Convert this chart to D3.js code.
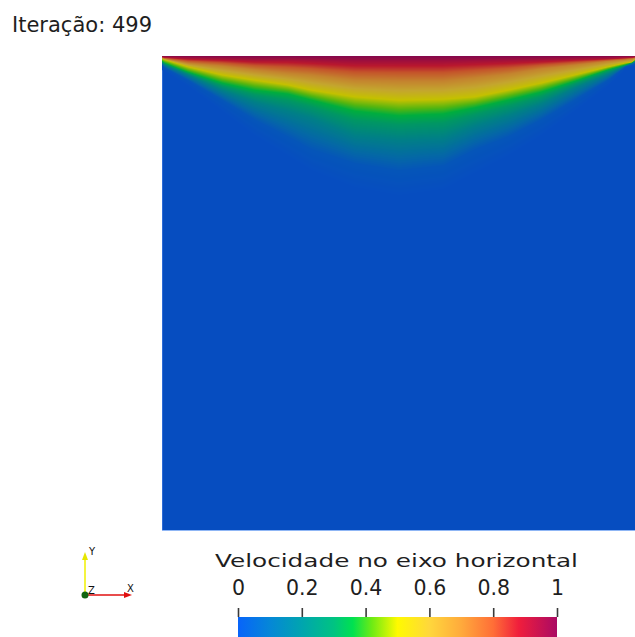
<!DOCTYPE html>
<html>
<head>
<meta charset="utf-8">
<script src="https://cdn.jsdelivr.net/npm/d3@7"></script>
<style>
  html, body { margin: 0; padding: 0; background: #fff; overflow: hidden; }
  svg { display: block; font-family: "DejaVu Sans", sans-serif; }
</style>
</head>
<body>
<div id="chart"></div>
<script>
// Iterazione mostrata in alto a sinistra
const iteration = 499;
const colorbarTitle = "Velocidade no eixo horizontal";
const colorbarTicks = [0, 0.2, 0.4, 0.6, 0.8, 1];

const colorStops = [0, 0.1, 0.2, 0.3, 0.36, 0.42, 0.5, 0.6, 0.7, 0.8, 0.88, 1];
const colorValues = ["#0864fa", "#0587d7", "#00a5af", "#00c382", "#00e150", "#6eeb14",
                     "#fffa00", "#ffd73c", "#ffaa3c", "#ff6e37", "#f01e3c", "#aa0a64"];

// Campo di velocita' u: profondita' (dal coperchio, altezza cavita' = 1)
// a cui u vale ciascun livello, per ogni stazione orizzontale x
const levels   = [1, 0.9, 0.7, 0.5, 0.36, 0.2, 0.03, 0];
const stations = [0, 0.006, 0.055, 0.127, 0.196, 0.266, 0.316, 0.407, 0.5, 0.593, 0.66, 0.73, 0.80, 0.871, 0.941, 0.977, 0.992, 1];
const depth90  = [0.002, 0.003, 0.006, 0.008, 0.011, 0.011, 0.013, 0.017, 0.017, 0.017, 0.015, 0.013, 0.011, 0.008, 0.006, 0.004, 0.003, 0.002];
const depth70  = [0.004, 0.006, 0.015, 0.021, 0.029, 0.036, 0.040, 0.051, 0.053, 0.053, 0.046, 0.038, 0.027, 0.019, 0.011, 0.008, 0.006, 0.004];
const depth50  = [0.006, 0.008, 0.023, 0.040, 0.051, 0.061, 0.072, 0.086, 0.093, 0.091, 0.086, 0.072, 0.057, 0.040, 0.023, 0.015, 0.013, 0.006];
const depth36  = [0.011, 0.015, 0.034, 0.057, 0.072, 0.080, 0.093, 0.116, 0.126, 0.122, 0.109, 0.093, 0.076, 0.053, 0.029, 0.019, 0.014, 0.008];
const depth20  = [0.015, 0.019, 0.040, 0.072, 0.097, 0.116, 0.131, 0.168, 0.177, 0.173, 0.147, 0.126, 0.101, 0.067, 0.038, 0.021, 0.015, 0.011];
const depth03  = [0.019, 0.025, 0.051, 0.093, 0.135, 0.171, 0.198, 0.227, 0.242, 0.232, 0.198, 0.171, 0.135, 0.093, 0.051, 0.023, 0.019, 0.015];
const depth00  = [0.025, 0.032, 0.063, 0.116, 0.168, 0.211, 0.242, 0.278, 0.295, 0.282, 0.248, 0.211, 0.168, 0.116, 0.063, 0.029, 0.023, 0.019];

const WIDTH = 635;
const HEIGHT = 637;
const field = { left: 162, top: 56, size: 474 };
const shade = 0.77; // illuminazione della superficie

const svg = d3.select("#chart").append("svg")
    .attr("width", WIDTH)
    .attr("height", HEIGHT);

const x = d3.scaleLinear().domain([0, 1]).range([field.left, field.left + field.size]);
const y = d3.scaleLinear().domain([0, 1]).range([field.top + field.size + 1, field.top]);
const color = d3.scaleLinear().domain(colorStops).range(colorValues)
    .interpolate(d3.interpolateRgb).clamp(true);

// --- campo (canvas -> image) ---
const depthTables = [depth90, depth70, depth50, depth36, depth20, depth03, depth00];
const depthScales = depthTables.map(arr => d3.scaleLinear().domain(stations).range(arr));

const w = Math.round(x(1) - x(0));
const h = Math.round(y(0) - y(1));
const canvas = document.createElement("canvas");
canvas.width = w;
canvas.height = h;
const ctx = canvas.getContext("2d");
const img = ctx.createImageData(w, h);

for (let i = 0; i < w; i++) {
    const xn = x.invert(x(0) + i + 0.5);
    const dom = [0].concat(depthScales.map(s => s(xn)));
    const profile = d3.scaleLinear().domain(dom).range(levels).clamp(true);
    for (let j = 0; j < h; j++) {
        const depth = 1 - y.invert(y(1) + j + 0.5);
        const c = d3.rgb(color(profile(depth)));
        const k = (j * w + i) * 4;
        img.data[k] = c.r * shade;
        img.data[k + 1] = c.g * shade;
        img.data[k + 2] = c.b * shade;
        img.data[k + 3] = 255;
    }
}
ctx.putImageData(img, 0, 0);

svg.append("image")
    .attr("x", x(0))
    .attr("y", y(1))
    .attr("width", w)
    .attr("height", h)
    .attr("href", canvas.toDataURL());

// bordi chiari (antialias del render)
svg.append("line")
    .attr("x1", x(0) + 0.5).attr("x2", x(0) + 0.5)
    .attr("y1", y(0.97)).attr("y2", y(0))
    .attr("stroke", "#3d78e0").attr("stroke-width", 1)
    .attr("stroke-opacity", 0.7);
svg.append("line")
    .attr("x1", x(0)).attr("x2", x(1))
    .attr("y1", y(0) - 0.5).attr("y2", y(0) - 0.5)
    .attr("stroke", "#8fb6f5").attr("stroke-width", 1);

// --- titolo iterazione ---
svg.append("text")
    .attr("x", 12)
    .attr("y", 32)
    .attr("font-size", 22)
    .attr("fill", "#1e1e1e")
    .attr("textLength", 140)
    .attr("lengthAdjust", "spacingAndGlyphs")
    .text(`Iteração: ${iteration}`);

// --- barra dei colori ---
const bar = { x0: 238, x1: 557, y: 617, h: 24 };
const cb = d3.scaleLinear().domain([0, 1]).range([bar.x0, bar.x1]);

const grad = svg.append("defs").append("linearGradient")
    .attr("id", "cbgrad")
    .attr("x1", "0%").attr("x2", "100%").attr("y1", "0%").attr("y2", "0%");
grad.selectAll("stop")
    .data(colorStops)
    .enter()
    .append("stop")
    .attr("offset", d => `${d * 100}%`)
    .attr("stop-color", (d, i) => colorValues[i]);

svg.append("rect")
    .attr("x", cb(0))
    .attr("y", bar.y)
    .attr("width", cb(1) - cb(0))
    .attr("height", bar.h)
    .attr("fill", "url(#cbgrad)");

const axis = svg.append("g")
    .attr("transform", `translate(0,${bar.y})`)
    .call(d3.axisTop(cb)
        .tickValues(colorbarTicks)
        .tickFormat(d3.format("~g"))
        .tickSize(9)
        .tickPadding(13));
axis.select(".domain").remove();
axis.selectAll(".tick line")
    .attr("stroke", "#3a3a3a")
    .attr("stroke-width", 1.6);
axis.selectAll(".tick text")
    .attr("font-family", "DejaVu Sans, sans-serif")
    .attr("font-size", 20.5)
    .attr("fill", "#1e1e1e");

svg.append("text")
    .attr("x", (bar.x0 + bar.x1) / 2 - 1)
    .attr("y", 567)
    .attr("text-anchor", "middle")
    .attr("font-size", 18.5)
    .attr("fill", "#1e1e1e")
    .attr("textLength", 363)
    .attr("lengthAdjust", "spacingAndGlyphs")
    .text(colorbarTitle);

// --- triade assi ---
const triad = svg.append("g").attr("transform", "translate(85,595)");
triad.append("line")
    .attr("x1", 0).attr("y1", 0).attr("x2", 0).attr("y2", -36)
    .attr("stroke", "#f0f000").attr("stroke-width", 1.5);
triad.append("path")
    .attr("d", "M-3,-35 L3,-35 L0,-43 Z")
    .attr("fill", "#e6e600");
triad.append("line")
    .attr("x1", 0).attr("y1", 0).attr("x2", 40).attr("y2", 0)
    .attr("stroke", "#e01010").attr("stroke-width", 1.5);
triad.append("path")
    .attr("d", "M39,-3 L39,3 L47,0 Z")
    .attr("fill", "#e01010");
triad.append("circle")
    .attr("r", 3.5)
    .attr("fill", "#116611");
const triadLabels = [
    { t: "Y", x: 4, y: -40 },
    { t: "Z", x: 3, y: -1 },
    { t: "X", x: 42, y: -3 }
];
triad.selectAll("text.lbl")
    .data(triadLabels)
    .enter()
    .append("text")
    .attr("class", "lbl")
    .attr("x", d => d.x)
    .attr("y", d => d.y)
    .attr("font-size", 10)
    .attr("fill", "#111")
    .text(d => d.t);
</script>
</body>
</html>
